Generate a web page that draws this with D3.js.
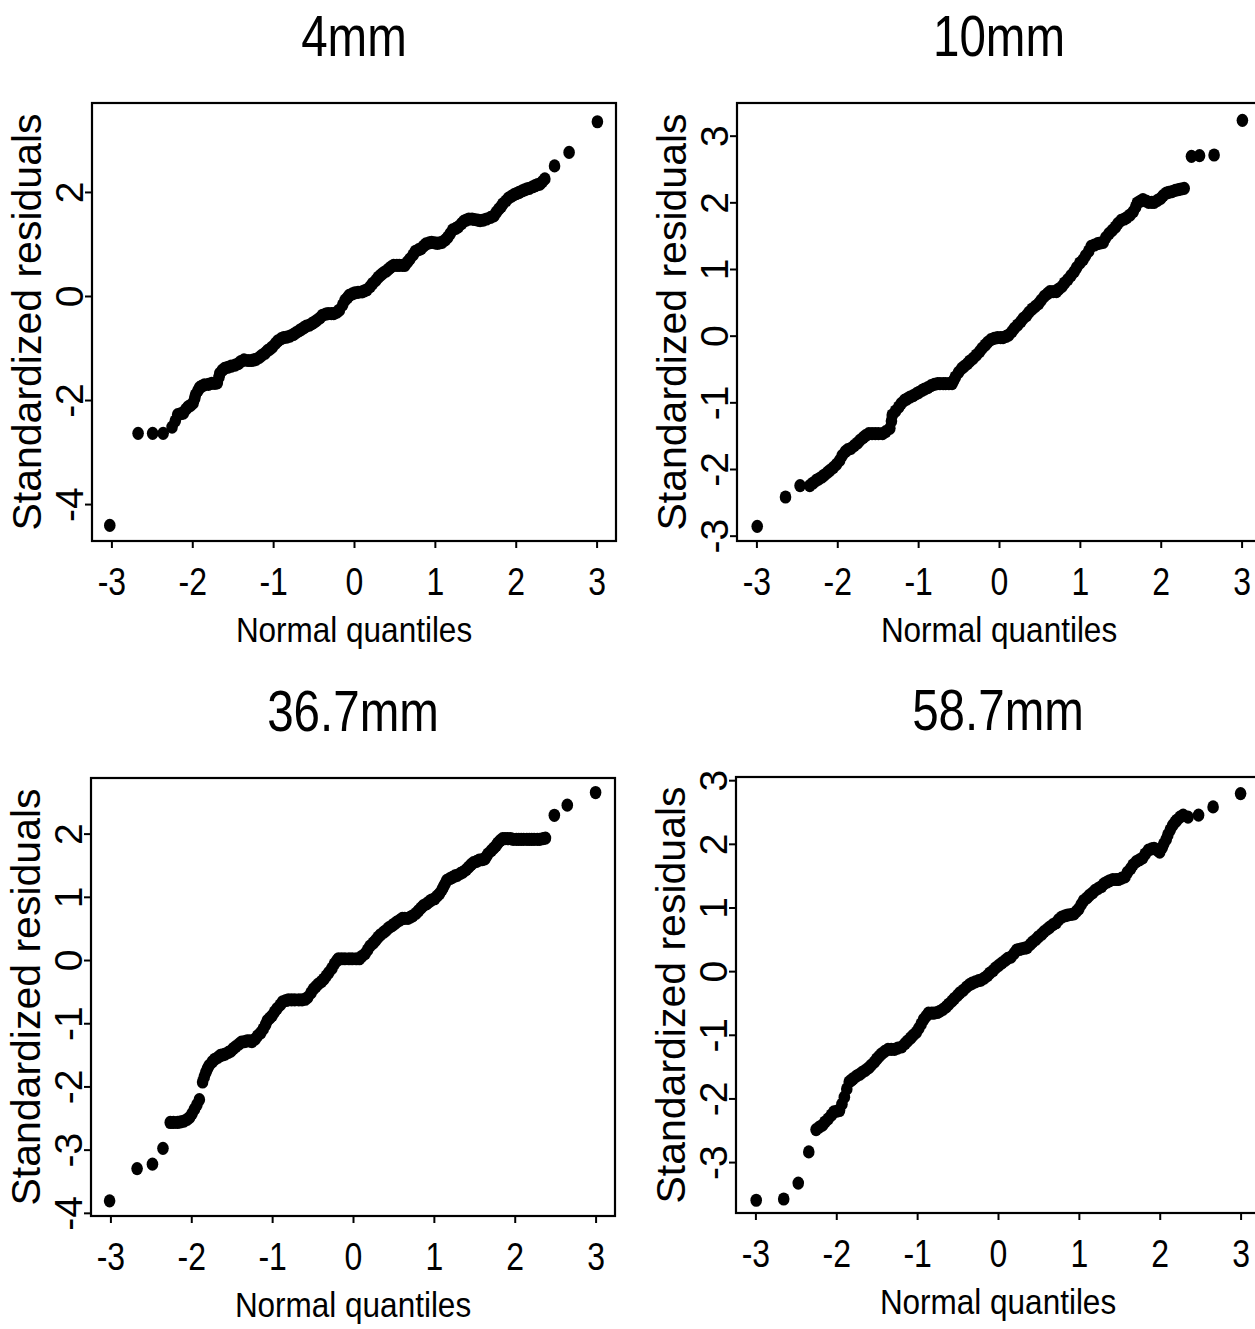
<!DOCTYPE html>
<html>
<head>
<meta charset="utf-8">
<script src="https://cdn.jsdelivr.net/npm/d3@7"></script>
<style>
html,body{margin:0;padding:0;background:#fff;}
svg{display:block;}
</style>
</head>
<body>
<svg id="chart" width="1255" height="1329"></svg>
<script>
// ---------- data ----------
const titles = ["4mm", "10mm", "36.7mm", "58.7mm"];
const xTicks = [-3, -2, -1, 0, 1, 2, 3];
const yTicks4mm = [-4, -2, 0, 2];
const yTicks10mm = [-3, -2, -1, 0, 1, 2, 3];
const yTicks367mm = [-4, -3, -2, -1, 0, 1, 2];
const yTicks587mm = [-3, -2, -1, 0, 1, 2, 3];

// 4mm: normal quantiles (x) and standardized residuals (y)
const q4x = [-3.02,-2.67,-2.49,-2.36,
 -2.25,-2.21,-2.18,-2.14,-2.11,-2.08,-2.05,-2.02,-1.99,-1.97,-1.96,-1.93,-1.91,-1.88,-1.85,-1.80,-1.76,-1.72,-1.69,-1.67,-1.66,-1.63,-1.60,-1.56,-1.52,-1.47,-1.43,-1.40,-1.36,-1.31,-1.27,-1.24,-1.21,-1.17,-1.14,-1.10,-1.07,-1.04,-1.01,-0.97,-0.94,-0.90,-0.87,-0.83,-0.79,-0.75,-0.72,-0.68,-0.65,-0.62,-0.59,-0.55,-0.52,-0.49,-0.46,-0.42,-0.39,-0.35,-0.32,-0.28,-0.25,-0.21,-0.18,-0.14,-0.11,-0.08,-0.06,-0.02,
 0.01,0.05,0.10,0.13,0.16,0.20,0.23,0.27,0.30,0.33,0.36,0.40,0.43,0.46,0.49,0.53,0.56,0.60,0.63,0.66,0.69,0.73,0.76,0.80,0.83,0.86,0.89,0.93,0.96,1.00,1.03,1.06,1.09,1.13,1.16,1.19,1.22,1.26,1.29,1.33,1.36,1.39,1.42,1.46,1.49,1.53,1.56,1.60,1.64,1.69,1.73,1.76,1.79,1.82,1.84,1.88,1.91,1.95,1.98,2.01,2.04,2.08,2.11,2.14,2.17,2.21,2.24,2.27,2.30,2.33,2.36,
 2.48,2.66,3.01];
const q4y = [-4.41,-2.64,-2.64,-2.64,
 -2.52,-2.40,-2.28,-2.26,-2.25,-2.18,-2.13,-2.10,-2.06,-1.97,-1.90,-1.82,-1.76,-1.73,-1.71,-1.70,-1.68,-1.68,-1.67,-1.56,-1.49,-1.43,-1.39,-1.37,-1.35,-1.33,-1.30,-1.26,-1.23,-1.24,-1.24,-1.23,-1.22,-1.18,-1.14,-1.10,-1.05,-1.02,-0.98,-0.91,-0.86,-0.82,-0.80,-0.79,-0.77,-0.74,-0.71,-0.67,-0.64,-0.61,-0.58,-0.56,-0.53,-0.50,-0.47,-0.42,-0.37,-0.35,-0.34,-0.34,-0.34,-0.31,-0.27,-0.17,-0.08,-0.03,0.01,0.04,
 0.06,0.07,0.08,0.10,0.12,0.18,0.24,0.30,0.36,0.40,0.44,0.48,0.52,0.56,0.59,0.59,0.59,0.59,0.59,0.65,0.71,0.79,0.86,0.89,0.91,0.96,1.00,1.02,1.03,1.02,1.01,1.02,1.03,1.08,1.13,1.20,1.27,1.30,1.33,1.39,1.44,1.46,1.48,1.48,1.47,1.46,1.45,1.46,1.48,1.51,1.54,1.61,1.67,1.72,1.77,1.83,1.88,1.92,1.95,1.97,1.99,2.02,2.04,2.06,2.07,2.10,2.12,2.14,2.15,2.20,2.25,
 2.50,2.76,3.35];

// 10mm
const q10x = [-2.99,-2.64,-2.46,
 -2.34,-2.30,-2.26,-2.23,-2.19,-2.16,-2.12,-2.09,-2.05,-2.01,-1.97,-1.94,-1.90,-1.87,-1.83,-1.79,-1.75,-1.72,-1.68,-1.65,-1.61,-1.57,-1.53,-1.49,-1.44,-1.40,-1.35,-1.33,-1.32,-1.28,-1.24,-1.21,-1.17,-1.14,-1.10,-1.06,-1.02,-0.99,-0.95,-0.92,-0.88,-0.84,-0.80,-0.76,-0.73,-0.69,-0.66,-0.62,-0.58,-0.56,-0.54,-0.50,-0.46,-0.43,-0.39,-0.36,-0.32,-0.28,-0.24,-0.21,-0.17,-0.14,-0.10,-0.06,-0.02,
 0.02,0.05,0.09,0.12,0.16,0.19,0.23,0.27,0.30,0.34,0.37,0.41,0.45,0.49,0.52,0.56,0.60,0.63,0.67,0.71,0.74,0.78,0.81,0.85,0.89,0.93,0.96,1.00,1.04,1.07,1.11,1.14,1.18,1.22,1.25,1.29,1.32,1.36,1.40,1.44,1.47,1.51,1.55,1.58,1.62,1.66,1.69,1.71,1.75,1.78,1.82,1.85,1.89,1.92,1.96,2.00,2.03,2.07,2.10,2.14,2.18,2.22,2.25,2.29,
 2.38,2.48,2.66,3.01];
const q10y = [-2.86,-2.42,-2.25,
 -2.25,-2.21,-2.17,-2.15,-2.12,-2.09,-2.05,-2.02,-1.98,-1.93,-1.87,-1.80,-1.74,-1.71,-1.69,-1.65,-1.61,-1.57,-1.53,-1.50,-1.47,-1.47,-1.47,-1.47,-1.47,-1.44,-1.39,-1.28,-1.19,-1.13,-1.07,-1.02,-0.97,-0.95,-0.92,-0.90,-0.87,-0.85,-0.82,-0.80,-0.78,-0.75,-0.73,-0.72,-0.72,-0.72,-0.72,-0.72,-0.72,-0.67,-0.62,-0.55,-0.49,-0.46,-0.42,-0.38,-0.34,-0.29,-0.24,-0.19,-0.14,-0.10,-0.06,-0.04,-0.03,
 -0.03,-0.03,-0.01,0.01,0.06,0.11,0.16,0.21,0.26,0.30,0.35,0.40,0.44,0.48,0.53,0.59,0.63,0.66,0.66,0.66,0.70,0.74,0.79,0.84,0.90,0.96,1.02,1.09,1.14,1.20,1.27,1.34,1.36,1.38,1.39,1.40,1.47,1.53,1.58,1.63,1.68,1.73,1.75,1.77,1.81,1.86,1.93,1.99,2.02,2.04,2.02,2.00,2.00,2.00,2.03,2.06,2.10,2.14,2.15,2.16,2.18,2.19,2.20,2.21,
 2.69,2.70,2.71,3.23];

// 36.7mm
const q367x = [-3.01,-2.67,-2.48,-2.35,
 -2.26,-2.22,-2.17,-2.13,-2.09,-2.05,-2.02,-1.99,-1.96,-1.93,-1.90,-1.86,-1.84,-1.82,-1.80,-1.78,-1.74,-1.71,-1.67,-1.64,-1.61,-1.58,-1.54,-1.51,-1.48,-1.45,-1.41,-1.38,-1.34,-1.31,-1.28,-1.25,-1.21,-1.18,-1.14,-1.11,-1.08,-1.06,-1.03,-1.00,-0.97,-0.94,-0.90,-0.87,-0.83,-0.80,-0.76,-0.72,-0.67,-0.63,-0.59,-0.56,-0.52,-0.49,-0.46,-0.43,-0.39,-0.36,-0.33,-0.30,-0.26,-0.23,-0.20,-0.18,-0.14,-0.10,-0.05,-0.01,
 0.04,0.08,0.11,0.15,0.18,0.21,0.25,0.28,0.31,0.34,0.38,0.41,0.44,0.48,0.51,0.54,0.58,0.61,0.64,0.68,0.71,0.74,0.78,0.81,0.84,0.87,0.91,0.94,0.97,1.01,1.04,1.07,1.10,1.12,1.14,1.16,1.20,1.23,1.26,1.29,1.33,1.36,1.40,1.43,1.46,1.49,1.53,1.56,1.60,1.63,1.65,1.67,1.71,1.74,1.77,1.79,1.82,1.85,1.88,1.91,1.95,1.98,2.02,2.05,2.08,2.11,2.15,2.18,2.21,2.24,2.28,2.31,2.35,2.38,
 2.49,2.65,3.00];
const q367y = [-3.81,-3.30,-3.23,-2.98,
 -2.57,-2.57,-2.57,-2.56,-2.55,-2.52,-2.49,-2.43,-2.36,-2.29,-2.21,-1.93,-1.85,-1.78,-1.72,-1.67,-1.61,-1.57,-1.54,-1.51,-1.50,-1.49,-1.46,-1.44,-1.40,-1.37,-1.33,-1.30,-1.29,-1.28,-1.28,-1.29,-1.25,-1.20,-1.15,-1.09,-1.02,-0.96,-0.92,-0.88,-0.82,-0.77,-0.71,-0.66,-0.64,-0.63,-0.63,-0.63,-0.63,-0.63,-0.62,-0.59,-0.52,-0.46,-0.42,-0.38,-0.34,-0.30,-0.25,-0.20,-0.13,-0.06,-0.01,0.02,0.02,0.02,0.02,0.02,
 0.02,0.02,0.06,0.10,0.16,0.22,0.27,0.31,0.36,0.40,0.44,0.47,0.51,0.54,0.57,0.60,0.63,0.66,0.66,0.66,0.68,0.70,0.74,0.78,0.82,0.86,0.89,0.92,0.95,0.97,1.01,1.05,1.11,1.16,1.21,1.26,1.29,1.31,1.33,1.34,1.37,1.39,1.43,1.47,1.51,1.54,1.56,1.58,1.59,1.60,1.64,1.68,1.73,1.77,1.81,1.85,1.89,1.92,1.92,1.92,1.92,1.91,1.91,1.91,1.91,1.91,1.91,1.91,1.91,1.91,1.91,1.91,1.92,1.93,
 2.29,2.45,2.65];

// 58.7mm
const q587x = [-2.99,-2.65,-2.47,-2.34,
 -2.25,-2.21,-2.17,-2.14,-2.10,-2.06,-2.03,-1.99,-1.96,-1.93,-1.90,-1.87,-1.84,-1.81,-1.79,-1.75,-1.71,-1.68,-1.64,-1.60,-1.57,-1.53,-1.50,-1.47,-1.44,-1.40,-1.36,-1.32,-1.28,-1.24,-1.19,-1.15,-1.12,-1.08,-1.05,-1.01,-0.98,-0.95,-0.92,-0.89,-0.86,-0.82,-0.79,-0.75,-0.72,-0.68,-0.64,-0.61,-0.57,-0.54,-0.50,-0.47,-0.43,-0.39,-0.35,-0.32,-0.28,-0.24,-0.21,-0.17,-0.13,-0.10,-0.06,-0.03,
 0.01,0.05,0.09,0.12,0.16,0.20,0.23,0.26,0.29,0.33,0.36,0.40,0.43,0.47,0.50,0.54,0.57,0.61,0.64,0.68,0.72,0.75,0.79,0.83,0.86,0.90,0.94,0.97,1.00,1.03,1.06,1.10,1.13,1.17,1.20,1.24,1.28,1.31,1.35,1.38,1.42,1.46,1.49,1.53,1.57,1.60,1.64,1.67,1.71,1.75,1.79,1.82,1.86,1.90,1.93,1.97,2.00,2.03,2.05,2.08,2.10,2.13,2.16,2.19,2.21,2.25,2.29,2.35,
 2.48,2.66,3.00];
const q587y = [-3.60,-3.58,-3.33,-2.84,
 -2.49,-2.45,-2.42,-2.37,-2.32,-2.26,-2.21,-2.20,-2.19,-2.09,-1.98,-1.85,-1.74,-1.71,-1.69,-1.65,-1.62,-1.59,-1.56,-1.52,-1.48,-1.43,-1.38,-1.34,-1.30,-1.26,-1.23,-1.23,-1.23,-1.21,-1.19,-1.14,-1.10,-1.05,-1.01,-0.96,-0.90,-0.83,-0.76,-0.71,-0.66,-0.66,-0.66,-0.65,-0.63,-0.60,-0.56,-0.52,-0.47,-0.43,-0.38,-0.34,-0.30,-0.25,-0.21,-0.19,-0.17,-0.15,-0.14,-0.11,-0.07,-0.03,0.01,0.05,
 0.09,0.13,0.17,0.20,0.22,0.28,0.33,0.34,0.35,0.36,0.37,0.42,0.46,0.50,0.54,0.58,0.62,0.66,0.69,0.73,0.76,0.81,0.85,0.87,0.88,0.89,0.90,0.94,0.98,1.05,1.11,1.15,1.19,1.23,1.27,1.30,1.33,1.37,1.40,1.42,1.44,1.44,1.44,1.46,1.48,1.55,1.61,1.67,1.72,1.75,1.78,1.84,1.90,1.92,1.93,1.90,1.87,1.94,2.00,2.07,2.14,2.22,2.29,2.34,2.37,2.42,2.45,2.42,
 2.45,2.58,2.79];

const yDomains = [[-4.71, 3.71], [-3.08, 3.49], [-4.05, 2.88], [-3.80, 3.05]];
const xDomain = [-3.24, 3.24];

// ---------- layout ----------
const panels = [
  {title: titles[0], xs: q4x, ys: q4y, yTicks: yTicks4mm, yDom: yDomains[0], left: 92, top: 103, w: 524, h: 438},
  {title: titles[1], xs: q10x, ys: q10y, yTicks: yTicks10mm, yDom: yDomains[1], left: 737, top: 103, w: 524, h: 438},
  {title: titles[2], xs: q367x, ys: q367y, yTicks: yTicks367mm, yDom: yDomains[2], left: 91, top: 778, w: 524, h: 438},
  {title: titles[3], xs: q587x, ys: q587y, yTicks: yTicks587mm, yDom: yDomains[3], left: 736, top: 777, w: 524, h: 436}
];

const svg = d3.select("#chart");
const FONT = "'Liberation Sans', Arial, Helvetica, sans-serif";

panels.forEach(p => {
  const g = svg.append("g").attr("transform", `translate(${p.left},${p.top})`);
  const x = d3.scaleLinear().domain(xDomain).range([0, p.w]);
  const y = d3.scaleLinear().domain(p.yDom).range([p.h, 0]);

  // points
  const pts = p.xs.map((v, i) => [v, p.ys[i]]);
  g.append("g").selectAll("ellipse").data(pts).join("ellipse")
    .attr("cx", d => x(d[0])).attr("cy", d => y(d[1]))
    .attr("rx", 5.8).attr("ry", 6.6).attr("fill", "#000");

  // frame
  g.append("rect").attr("x", 0).attr("y", 0).attr("width", p.w).attr("height", p.h)
    .attr("fill", "none").attr("stroke", "#000").attr("stroke-width", 2.2);

  // x axis
  const xa = g.append("g").attr("transform", `translate(0,${p.h})`)
    .call(d3.axisBottom(x).tickValues(xTicks).tickSize(7).tickFormat(d => String(d)));
  xa.select(".domain").remove();
  xa.selectAll(".tick line").attr("stroke", "#000").attr("stroke-width", 2);
  xa.selectAll(".tick text")
    .attr("y", 54).attr("dy", null)
    .attr("transform", "scale(0.82,1)")
    .attr("fill", "#000")
    .style("font-family", FONT).style("font-size", "39px");

  // y axis
  const ya = g.append("g")
    .call(d3.axisLeft(y).tickValues(p.yTicks).tickSize(7).tickFormat(d => String(d)));
  ya.select(".domain").remove();
  ya.selectAll(".tick line").attr("stroke", "#000").attr("stroke-width", 2);
  ya.selectAll(".tick text")
    .attr("x", null).attr("dy", null).attr("y", null)
    .attr("text-anchor", "middle")
    .attr("transform", "translate(-9,0) rotate(-90)")
    .attr("fill", "#000")
    .style("font-family", FONT).style("font-size", "39px");

  // titles
  g.append("text")
    .attr("transform", `translate(${p.w / 2},${-47}) scale(0.82,1)`)
    .attr("text-anchor", "middle")
    .style("font-family", FONT).style("font-size", "58px")
    .text(p.title);

  g.append("text")
    .attr("transform", `translate(${p.w / 2},${p.h + 101}) scale(0.9,1)`)
    .attr("text-anchor", "middle")
    .style("font-family", FONT).style("font-size", "35px")
    .text("Normal quantiles");

  g.append("text")
    .attr("transform", `translate(-51,${p.h / 2}) rotate(-90)`)
    .attr("text-anchor", "middle")
    .style("font-family", FONT).style("font-size", "41px")
    .text("Standardized residuals");
});
</script>
</body>
</html>
